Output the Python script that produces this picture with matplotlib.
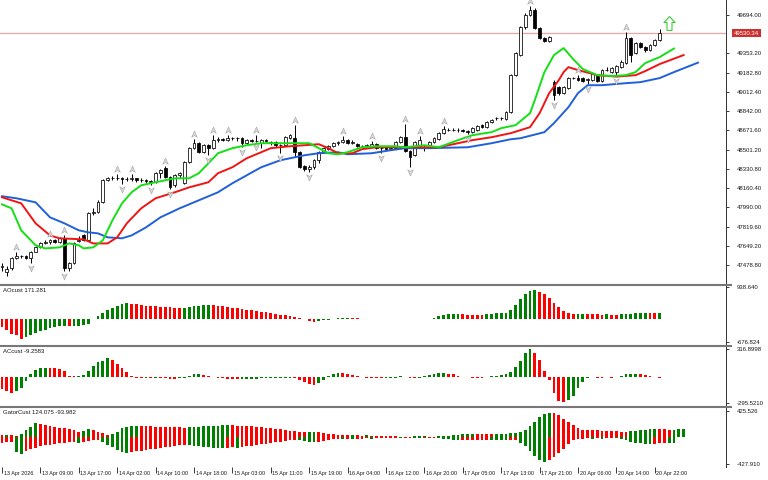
import numpy as np
import matplotlib
matplotlib.use("Agg")
import matplotlib.pyplot as plt
from matplotlib.path import Path
from matplotlib.lines import Line2D
from matplotlib.transforms import ScaledTranslation, blended_transform_factory

plt.rcParams['font.family'] = ['Liberation Sans', 'DejaVu Sans']

# hourly candles, 13 Apr 2026 01:00 .. 20 Apr 2026 23:00
opens = [
    47461, 47417, 47452, 47541, 47558, 47556, 47541, 47594, 47638, 47674,
    47679, 47700, 47683, 47718, 47452, 47496, 47690, 47745, 47700, 47940,
    47945, 48037, 48232, 48250, 48252, 48250, 48241, 48243, 48247, 48232,
    48230, 48223, 48214, 48290, 48338, 48259, 48188, 48276, 48205, 48391,
    48515, 48560, 48480, 48542, 48515, 48583, 48595, 48590, 48604, 48600,
    48602, 48560, 48586, 48577, 48560, 48586, 48560, 48569, 48542, 48538,
    48605, 48604, 48480, 48356, 48329, 48347, 48409, 48480, 48510, 48533,
    48560, 48569, 48586, 48562, 48551, 48533, 48535, 48533, 48551, 48515,
    48520, 48510, 48518, 48569, 48613, 48489, 48453, 48530, 48520, 48542,
    48569, 48595, 48648, 48675, 48678, 48675, 48677, 48666, 48657, 48675,
    48719, 48702, 48746, 48778, 48781, 48772, 48834, 49162, 49340, 49588,
    49694, 49738, 49579, 49490, 49464, 49100, 49056, 49003, 49047, 49136,
    49138, 49136, 49120, 49118, 49153, 49109, 49207, 49189, 49189, 49233,
    49269, 49490, 49357, 49446, 49410, 49384, 49428, 49472]
highs = [
    47496, 47470, 47550, 47594, 47567, 47567, 47603, 47647, 47683, 47700,
    47709, 47709, 47727, 47745, 47505, 47683, 47736, 47753, 47948, 47984,
    48055, 48241, 48259, 48267, 48285, 48259, 48259, 48285, 48250, 48250,
    48241, 48232, 48303, 48329, 48356, 48267, 48285, 48303, 48400, 48524,
    48595, 48569, 48551, 48551, 48631, 48613, 48608, 48631, 48615, 48613,
    48610, 48595, 48595, 48631, 48595, 48595, 48580, 48575, 48555, 48622,
    48640, 48719, 48489, 48365, 48365, 48418, 48489, 48524, 48542, 48569,
    48578, 48622, 48595, 48586, 48560, 48545, 48551, 48578, 48560, 48524,
    48530, 48530, 48578, 48622, 48728, 48498, 48578, 48622, 48540, 48578,
    48613, 48657, 48710, 48690, 48690, 48693, 48684, 48675, 48702, 48719,
    48728, 48755, 48772, 48790, 48790, 48843, 49171, 49366, 49597, 49712,
    49774, 49756, 49588, 49499, 49508, 49118, 49065, 49065, 49145, 49148,
    49162, 49145, 49136, 49189, 49162, 49215, 49233, 49233, 49251, 49295,
    49543, 49499, 49455, 49455, 49419, 49437, 49481, 49570]
lows = [
    47426, 47381, 47434, 47532, 47541, 47532, 47496, 47590, 47629, 47665,
    47665, 47674, 47674, 47426, 47426, 47488, 47683, 47691, 47691, 47922,
    47940, 48028, 48223, 48232, 48232, 48196, 48223, 48223, 48214, 48214,
    48205, 48188, 48205, 48250, 48250, 48152, 48170, 48250, 48196, 48383,
    48507, 48471, 48471, 48453, 48507, 48569, 48580, 48580, 48590, 48578,
    48524, 48551, 48569, 48566, 48515, 48569, 48540, 48524, 48471, 48530,
    48596, 48436, 48338, 48312, 48303, 48329, 48383, 48471, 48498, 48524,
    48542, 48560, 48551, 48553, 48524, 48522, 48524, 48524, 48507, 48471,
    48500, 48500, 48507, 48560, 48480, 48347, 48445, 48515, 48489, 48533,
    48560, 48586, 48640, 48666, 48666, 48657, 48657, 48640, 48648, 48666,
    48693, 48693, 48737, 48764, 48764, 48764, 48826, 49153, 49331, 49570,
    49685, 49570, 49481, 49455, 49455, 48941, 48985, 48994, 49038, 49127,
    49109, 49100, 49083, 49109, 49100, 49100, 49198, 49180, 49153, 49224,
    49260, 49277, 49348, 49402, 49366, 49375, 49419, 49465]
closes = [
    47470, 47443, 47541, 47558, 47556, 47541, 47594, 47638, 47674, 47679,
    47700, 47683, 47718, 47452, 47496, 47674, 47697, 47700, 47940, 47945,
    48037, 48232, 48250, 48252, 48250, 48241, 48243, 48247, 48232, 48230,
    48223, 48214, 48294, 48321, 48259, 48170, 48276, 48294, 48391, 48515,
    48560, 48480, 48542, 48515, 48586, 48595, 48590, 48604, 48600, 48602,
    48560, 48586, 48577, 48580, 48586, 48578, 48569, 48542, 48538, 48613,
    48631, 48480, 48347, 48329, 48347, 48409, 48480, 48515, 48533, 48560,
    48569, 48586, 48560, 48567, 48533, 48535, 48540, 48551, 48515, 48513,
    48510, 48518, 48569, 48613, 48489, 48436, 48569, 48586, 48515, 48569,
    48604, 48648, 48684, 48678, 48675, 48677, 48666, 48657, 48693, 48710,
    48702, 48746, 48764, 48781, 48778, 48834, 49162, 49357, 49588, 49694,
    49738, 49579, 49490, 49464, 49499, 48985, 49003, 49056, 49136, 49138,
    49118, 49109, 49123, 49171, 49109, 49207, 49210, 49224, 49242, 49277,
    49490, 49340, 49446, 49410, 49384, 49428, 49472, 49530.34]
last_price = 49530.34

fractal_up_bars = [3, 10, 13, 24, 27, 34, 40, 44, 47, 53, 61, 71, 77, 84, 87, 92, 110, 120, 130]
fractal_down_bars = [6, 13, 25, 31, 35, 43, 50, 53, 58, 64, 79, 85, 97, 115, 122, 128]
signal_bar, signal_price = 139, 49619

# alligator lines (already shifted forward)
jaw_bars = [0, 3, 7, 10, 13, 16, 18, 20, 22, 25, 27, 30, 33, 37, 41, 45, 48, 51, 54, 58,
            63, 66, 70, 72, 77, 81, 84, 89, 97, 102, 106, 108, 113, 115, 118, 120, 122, 125,
            130, 133, 137, 140, 145]
jaw_vals = [48088, 48070, 48034, 47901, 47848, 47786, 47768, 47759, 47724, 47715,
            47741, 47812, 47901, 47981, 48052, 48123, 48203, 48274, 48345, 48407,
            48451, 48469, 48478, 48460, 48469, 48496, 48514, 48514, 48522, 48558,
            48593, 48602, 48656, 48736, 48877, 49002, 49072, 49072, 49090, 49099,
            49135, 49188, 49272]
teeth_bars = [0, 4, 7, 10, 12, 17, 19, 22, 24, 26, 29, 32, 36, 39, 43, 45, 48, 51, 54, 56,
              60, 66, 68, 70, 73, 75, 78, 87, 91, 93, 98, 102, 106, 110, 112, 113, 114, 116,
              117, 118, 120, 124, 128, 132, 134, 137, 142]
teeth_vals = [48079, 48025, 47848, 47741, 47715, 47706, 47670, 47670, 47724, 47848,
              47981, 48070, 48123, 48167, 48212, 48292, 48345, 48425, 48478, 48514,
              48531, 48549, 48514, 48469, 48469, 48505, 48522, 48522, 48522, 48540,
              48585, 48611, 48647, 48700, 48824, 48913, 49002, 49117, 49188, 49232,
              49206, 49161, 49148, 49161, 49197, 49259, 49339]
lips_bars = [0, 2, 4, 7, 9, 12, 14, 16, 17, 19, 21, 23, 25, 27, 29, 32, 36, 39, 41, 43,
             45, 48, 51, 54, 58, 64, 66, 68, 70, 72, 75, 78, 82, 84, 88, 91, 95, 98, 102, 104,
             107, 110, 111, 113, 115, 117, 119, 121, 124, 127, 130, 132, 134, 137, 140]
lips_vals = [48016, 47981, 47786, 47653, 47626, 47635, 47670, 47653, 47626, 47635,
             47697, 47874, 48025, 48123, 48185, 48212, 48247, 48247, 48292, 48380,
             48469, 48514, 48540, 48558, 48558, 48558, 48514, 48469, 48460, 48478,
             48522, 48531, 48531, 48522, 48540, 48522, 48585, 48629, 48656, 48691,
             48718, 48824, 48940, 49188, 49339, 49401, 49303, 49215, 49161, 49153,
             49161, 49188, 49268, 49321, 49397]

ao = [
    -245, -343, -441, -490, -588, -539, -470, -412, -372, -323,
    -274, -245, -225, -216, -225, -216, -206, -196, -147, -20,
    78, 157, 255, 323, 392, 441, 461, 451, 431, 412,
    392, 372, 363, 353, 348, 343, 323, 304, 323, 343,
    372, 392, 412, 417, 402, 392, 372, 353, 333, 314,
    284, 265, 245, 225, 206, 186, 157, 137, 118, 98,
    78, 59, 29, -20, -59, -88, -69, -49, -29, -10,
    10, 20, 29, 20, 10, -5, -10, -12, -15, -18,
    -14, -12, -10, -9, -12, -14, -12, -8, -3, 5,
    30, 78, 118, 127, 137, 142, 127, 118, 115, 112,
    110, 137, 147, 157, 160, 176, 245, 412, 588, 735,
    833, 862, 804, 735, 608, 470, 343, 216, 157, 137,
    140, 145, 140, 135, 130, 125, 130, 125, 120, 128,
    140, 150, 160, 170, 180, 175, 168, 171.281]
ac = [
    -134, -160, -180, -160, -122, -46, 31, 80, 99, 103,
    99, 96, 92, 69, 8, 4, 8, 19, 69, 126,
    164, 183, 210, 191, 145, 96, 50, 11, -8, -11,
    -8, -11, -8, -15, -19, -23, -25, -19, -8, 11,
    27, 31, 23, 11, -4, -11, -19, -23, -27, -29,
    -27, -25, -23, -21, -19, -17, -15, -13, -11, -10,
    -8, -19, -38, -61, -84, -92, -69, -31, 8, 31,
    46, 42, 31, 19, 8, -4, -8, -10, -11, -12,
    -11, -10, -9, 4, -4, -8, -10, -8, 8, 19,
    31, 42, 46, 38, 27, 11, -2, -6, -8, -10,
    -11, -4, 8, 15, 23, 31, 53, 107, 180, 267,
    313, 267, 191, 65, -31, -183, -275, -290, -267, -214,
    -126, -57, -11, -4, -8, -11, -4, -8, -4, 15,
    27, 34, 38, 31, 23, 8, -4, -9.2583]
gator_up = [
    32, 37, 27, 21, 43, 112, 166, 219, 203, 192,
    176, 160, 150, 139, 128, 107, 85, 101, 123, 112,
    85, 59, 32, 48, 85, 139, 166, 176, 182, 176,
    174, 171, 168, 166, 163, 160, 158, 155, 152, 155,
    160, 166, 171, 176, 182, 184, 187, 190, 187, 184,
    182, 176, 171, 166, 160, 152, 144, 134, 123, 112,
    101, 91, 80, 75, 80, 85, 75, 64, 53, 43,
    37, 32, 27, 29, 27, 24, 27, 24, 21, 19,
    16, 13, 11, 8, 5, 8, 11, 13, 11, 8,
    5, 11, 16, 21, 27, 37, 48, 53, 56, 53,
    51, 48, 45, 48, 51, 53, 59, 64, 75, 117,
    171, 235, 320, 374, 384, 379, 347, 294, 240, 187,
    144, 117, 112, 109, 107, 104, 101, 99, 96, 85,
    80, 91, 101, 112, 120, 123, 128, 125, 123, 120,
    122, 123.5, 124.075]
gator_down = [
    -85, -80, -75, -240, -262, -219, -192, -166, -144, -128,
    -117, -107, -96, -85, -75, -69, -85, -75, -64, -53,
    -43, -75, -117, -160, -203, -235, -246, -235, -224, -214,
    -203, -192, -182, -171, -160, -150, -139, -128, -117, -123,
    -134, -144, -155, -160, -166, -168, -171, -166, -160, -166,
    -155, -144, -134, -123, -112, -101, -91, -80, -69, -59,
    -53, -48, -53, -64, -75, -80, -69, -59, -48, -37,
    -27, -29, -27, -29, -27, -24, -21, -24, -21, -19,
    -16, -13, -11, -13, -11, -8, -11, -13, -16, -13,
    -11, -16, -24, -32, -43, -53, -52, -51, -48, -45,
    -43, -40, -45, -48, -51, -53, -51, -48, -85, -144,
    -224, -299, -363, -395, -363, -310, -246, -187, -107, -53,
    -32, -24, -21, -24, -21, -22, -20, -19, -21, -27,
    -43, -69, -91, -96, -101, -104, -101, -99, -91, -92.5,
    -93.982]

price_ticks = [49694.00, 49353.20, 49182.80, 49012.40, 48842.00, 48671.60, 48501.20,
               48330.80, 48160.40, 47990.00, 47819.60, 47649.20, 47478.80]
time_bars = list(range(0, 137, 8))
time_labels = ['13 Apr 2026', '13 Apr 09:00', '13 Apr 17:00', '14 Apr 02:00', '14 Apr 10:00',
               '14 Apr 18:00', '15 Apr 03:00', '15 Apr 11:00', '15 Apr 19:00', '16 Apr 04:00',
               '16 Apr 12:00', '16 Apr 20:00', '17 Apr 05:00', '17 Apr 13:00', '17 Apr 21:00',
               '20 Apr 06:00', '20 Apr 14:00', '20 Apr 22:00']

GREEN = '#008000'
RED = '#ff0000'
TXT = '#1a1a1a'
FS = 4.3

W, H = 768.0, 480.0
fig = plt.figure(figsize=(7.68, 4.8), dpi=100)


def panel(top, bottom):
    a = fig.add_axes([0, 1 - bottom / H, 726 / W, (bottom - top) / H])
    for s in ('top', 'left', 'bottom'):
        a.spines[s].set_visible(False)
    a.spines['right'].set_linewidth(0.7)
    a.spines['right'].set_color('#303030')
    a.yaxis.tick_right()
    a.tick_params(axis='y', length=2.5, width=0.6, pad=5, labelsize=FS, colors=TXT)
    a.tick_params(axis='x', bottom=False, labelbottom=False)
    return a


ax = panel(0, 283.7)
ax_ao = panel(285.7, 345)
ax_ac = panel(346.8, 406)
ax_gt = panel(407.8, 467)

# candles
o, h, l, c = (np.array(v, float) for v in (opens, highs, lows, closes))
idx = np.arange(len(o))
bull = c >= o
ax.vlines(idx, l, h, color='black', lw=0.7, zorder=3)
ax.bar(idx, np.abs(c - o), bottom=np.minimum(o, c), width=0.6,
       color=np.where(bull, 'white', 'black'), edgecolor='black', linewidth=0.55, zorder=4)

# alligator
ax.plot(jaw_bars, jaw_vals, color='#2060d8', lw=1.4, zorder=5)
ax.plot(teeth_bars, teeth_vals, color='#f01414', lw=1.4, zorder=5)
ax.plot(lips_bars, lips_vals, color='#14e014', lw=1.4, zorder=5)

# fractals
C = [Path.MOVETO, Path.LINETO, Path.LINETO, Path.LINETO, Path.CLOSEPOLY]
arrow_up = Path([(0, 1), (0.8, -0.8), (0, -0.3), (-0.8, -0.8), (0, 1)], C)
arrow_dn = Path([(0, -1), (0.8, 0.8), (0, 0.3), (-0.8, 0.8), (0, -1)], C)
shift_up = ax.transData + ScaledTranslation(0, 5 / 100, fig.dpi_scale_trans)
shift_dn = ax.transData + ScaledTranslation(0, -5 / 100, fig.dpi_scale_trans)
ax.plot(fractal_up_bars, h[fractal_up_bars], ls='none', marker=arrow_up, ms=5,
        mfc='#dadada', mec='#a4a4a4', mew=0.4, transform=shift_up, zorder=6)
ax.plot(fractal_down_bars, l[fractal_down_bars], ls='none', marker=arrow_dn, ms=5,
        mfc='#dadada', mec='#a4a4a4', mew=0.4, transform=shift_dn, zorder=6)

block_up = Path([(0, 1), (0.8, 0.15), (0.36, 0.15), (0.36, -1), (-0.36, -1), (-0.36, 0.15),
                 (-0.8, 0.15), (0, 1)], [Path.MOVETO] + [Path.LINETO] * 6 + [Path.CLOSEPOLY])
ax.plot([signal_bar], [signal_price], ls='none', marker=block_up, ms=10,
        mfc='none', mec='#3ccc3c', mew=0.8, zorder=6, clip_on=False)

# current price
ax.axhline(last_price, color='#f2a3a3', lw=0.9, zorder=1)
ax.text(1.011, last_price, f'{last_price:.2f}', color='white', fontsize=FS, ha='left', va='center',
        transform=blended_transform_factory(ax.transAxes, ax.transData), zorder=10,
        bbox=dict(boxstyle='square,pad=0.25', fc='#cc3030', ec='none'), clip_on=False)

ax.set_yticks(price_ticks)
ax.set_yticklabels([f'{p:.2f}' for p in price_ticks])
ax.set_ylim(47313, 49827)


def trend_colors(vals):
    v = np.abs(np.asarray(vals, float))
    d = np.diff(v, prepend=np.inf)
    return np.where(d > 0, GREEN, RED)


def signed_trend(vals):
    v = np.asarray(vals, float)
    d = np.diff(v, prepend=np.inf)
    return np.where(d > 0, GREEN, RED)


ax_ao.bar(np.arange(len(ao)), ao, width=0.55, color=signed_trend(ao), linewidth=0)
ax_ac.bar(np.arange(len(ac)), ac, width=0.55, color=signed_trend(ac), linewidth=0)
ax_gt.bar(np.arange(len(gator_up)), gator_up, width=0.55, color=trend_colors(gator_up), linewidth=0)
ax_gt.bar(np.arange(len(gator_down)), gator_down, width=0.55, color=trend_colors(gator_down), linewidth=0)

ax_ao.set_yticks([938.64, -676.824])
ax_ao.set_yticklabels(['938.640', '-676.824'])
ax_ao.set_ylim(-774.8, 977.2)
ax_ac.set_yticks([316.8998, -295.5210])
ax_ac.set_yticklabels(['316.8998', '-295.5210'])
ax_ac.set_ylim(-333.4, 343.3)
ax_gt.set_yticks([425.526, -427.910])
ax_gt.set_yticklabels(['425.526', '-427.910'])
ax_gt.set_ylim(-475.9, 468.8)

titles = [(ax_ao, f'AOcust {ao[-1]:g}'), (ax_ac, f'ACcust {ac[-1]:g}'),
          (ax_gt, f'GatorCust {gator_up[-1]:g} {gator_down[-1]:g}')]
for a, t in titles:
    a.annotate(t, xy=(0, 1), xycoords='axes fraction', xytext=(2.2, -3.6),
               textcoords='offset points', va='center', ha='left', fontsize=FS, color=TXT)

for a in (ax, ax_ao, ax_ac, ax_gt):
    a.set_xlim(-2 / 4.8, 724 / 4.8)

ax_gt.set_xticks(time_bars)
ax_gt.set_xticklabels(time_labels, ha='left')
ax_gt.tick_params(axis='x', bottom=True, labelbottom=True, length=4, width=0.6, pad=-1,
                  labelsize=3.9, colors=TXT)
for t in ax_gt.get_xticklabels():
    t.set_transform(t.get_transform() + ScaledTranslation(1.5 / 100, 0, fig.dpi_scale_trans))

for y in (284.7, 345.9, 406.9):
    fig.add_artist(Line2D([0, 731 / W], [1 - y / H] * 2, color='#777777', lw=1.5))

fig.savefig('out.png', dpi=100, facecolor='white')
